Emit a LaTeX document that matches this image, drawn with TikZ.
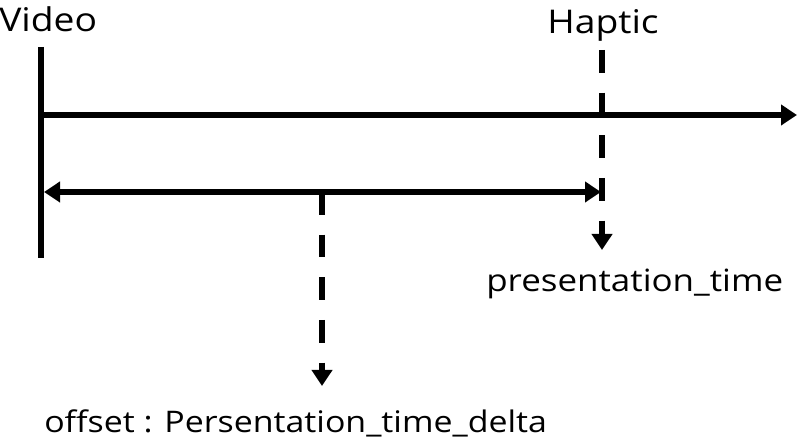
\documentclass[tikz,border=0pt]{standalone}
\usepackage{fontspec}
\setmainfont{Open Sans}[FakeStretch=1.14]
\usetikzlibrary{arrows.meta}

\begin{document}
\begin{tikzpicture}[
    x=0.75pt, y=-0.75pt,
    every node/.style={font=\fontsize{23}{27}\selectfont, inner sep=0pt},
    bigtext/.style={font=\fontsize{24.5}{29}\selectfont},
    solidline/.style={line width=3.8pt},
    dashline/.style={line width=3.8pt, dash pattern=on 17pt off 15pt},
    tip/.style={-{Triangle[length=12pt, width=15pt]}}
]
\useasboundingbox (0,0) rectangle (800,441);

% Labels
\node[bigtext, anchor=base west] (video) at (-1,32) {Video};
\node[bigtext, anchor=base] (haptic) at (603,34) {Haptic};
\node[anchor=base west] (pt) at (486,292) {presentation\_time};
\node[anchor=base west, font=\fontsize{22.3}{26}\selectfont] (offset) at (44,433) {offset : Persentation\_time\_delta};

% Coordinates on the time axis
\coordinate (vtop) at (41,47);
\coordinate (vbot) at (41,258);
\coordinate (axisstart) at (41,115);
\coordinate (axisend) at (797,115);
\coordinate (hstart) at (602,50);
\coordinate (hend) at (602,250);
\coordinate (dleft) at (44,192);
\coordinate (dright) at (601,192);
\coordinate (ostart) at (322,192);
\coordinate (oend) at (322,386);

% Video line and time axis
\draw[solidline] (vtop) -- (vbot);
\draw[solidline, tip] (axisstart) -- (axisend);

% Haptic marker
\draw[dashline, tip] (hstart) -- (hend);

% Delta between video and haptic
\draw[solidline, {Triangle[length=12pt, width=15pt]}-{Triangle[length=12pt, width=15pt]}] (dleft) -- (dright);
\draw[dashline, tip] (ostart) -- (oend);

\end{tikzpicture}
\end{document}
